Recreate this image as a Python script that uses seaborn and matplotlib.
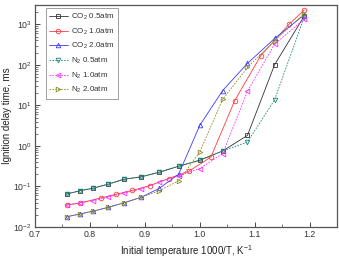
import numpy as np
import pandas as pd
import matplotlib as mpl
mpl.use('Agg')
import matplotlib.pyplot as plt
import seaborn as sns

# initial temperatures, K
T_std = [1320, 1280, 1240, 1200, 1160, 1120, 1080, 1040, 1000, 960, 920, 880, 840]
T_co2_1 = [1320, 1280, 1220, 1180, 1140, 1100, 1060, 1020, 980, 940, 900, 860, 840]

# ignition delay times, ms
co2_05 = [0.065, 0.078, 0.091, 0.114, 0.151, 0.172, 0.224, 0.315, 0.443, 0.75, 1.82, 101, 1620]
co2_10 = [0.035, 0.039, 0.052, 0.064, 0.080, 0.105, 0.157, 0.238, 0.533, 13.2, 168, 1010, 2270]
co2_20 = [0.0179, 0.0208, 0.0247, 0.0305, 0.0395, 0.0537, 0.0893, 0.20, 3.2, 23.2, 109, 448, 1710]
n2_05 = [0.065, 0.078, 0.091, 0.114, 0.151, 0.172, 0.224, 0.315, 0.443, 0.75, 1.25, 13.7, 1530]
n2_10 = [0.0347, 0.0389, 0.0448, 0.0546, 0.0684, 0.0859, 0.128, 0.184, 0.277, 0.647, 22.3, 326, 1340]
n2_20 = [0.0179, 0.0208, 0.0247, 0.0305, 0.0395, 0.0537, 0.078, 0.137, 0.708, 14.0, 86.9, 393, 1840]

labels = ['CO$_2$ 0.5atm', 'CO$_2$ 1.0atm', 'CO$_2$ 2.0atm',
          'N$_2$ 0.5atm', 'N$_2$ 1.0atm', 'N$_2$ 2.0atm']
temps = [T_std, T_co2_1, T_std, T_std, T_std, T_std]
series = [co2_05, co2_10, co2_20, n2_05, n2_10, n2_20]
colors = ['#333333', '#ff3b3b', '#3b3bff', '#1a8a7a', '#ff2bff', '#8a8a1a']
markers = ['s', 'o', '^', 'v', '<', '>']
styles = ['-', '-', '-', (0, (2, 1.5)), (0, (2, 1.5)), (0, (2, 1.5))]

sns.set_style('ticks')
plt.rcParams['font.family'] = ['Liberation Sans', 'DejaVu Sans']
plt.rcParams['mathtext.fontset'] = 'custom'
plt.rcParams['mathtext.rm'] = 'Liberation Sans'
plt.rcParams['mathtext.it'] = 'Liberation Sans:italic'

fig = plt.figure(figsize=(3.39, 2.58), dpi=100)
ax = fig.add_axes([0.1032, 0.1202, 0.8909, 0.8604])

for T, y, lab, c, m, ls in zip(temps, series, labels, colors, markers, styles):
    df = pd.DataFrame({'x': 1000.0 / np.array(T), 'y': y})
    sns.lineplot(data=df, x='x', y='y', ax=ax, color=c, marker=m, linestyle=ls,
                 linewidth=0.6, markersize=3.3, markerfacecolor='none',
                 markeredgecolor=c, markeredgewidth=0.6, label=lab)

ax.set_yscale('log')
ax.set_xlim(0.7, 1.25)
ax.set_ylim(0.01, 3000)
ax.set_xticks([0.7, 0.8, 0.9, 1.0, 1.1, 1.2])
ax.xaxis.set_minor_locator(mpl.ticker.MultipleLocator(0.05))
ax.tick_params(which='both', direction='in', labelsize=6.3, colors='#444444',
               labelcolor='#333333')
ax.tick_params(which='major', length=3.5, width=0.7, pad=2.5)
ax.tick_params(which='minor', length=2, width=0.5)
for s in ax.spines.values():
    s.set_color('#555555')
    s.set_linewidth(0.9)

ax.set_xlabel('Initial temperature 1000/T, K$^{-1}$', fontsize=7, color='#222222', labelpad=3)
ax.set_ylabel('Ignition delay time, ms', fontsize=7, color='#222222', labelpad=1)

leg = ax.legend(loc='upper left', bbox_to_anchor=(0.035, 0.985), fontsize=5.8,
                frameon=True, fancybox=False, borderaxespad=0, handlelength=2.3,
                handletextpad=0.35, labelspacing=0.55, borderpad=0.45)
leg.get_frame().set_edgecolor('#888888')
leg.get_frame().set_linewidth(0.7)
for t in leg.get_texts():
    t.set_color('#333333')

fig.savefig('out.png', dpi=100)
